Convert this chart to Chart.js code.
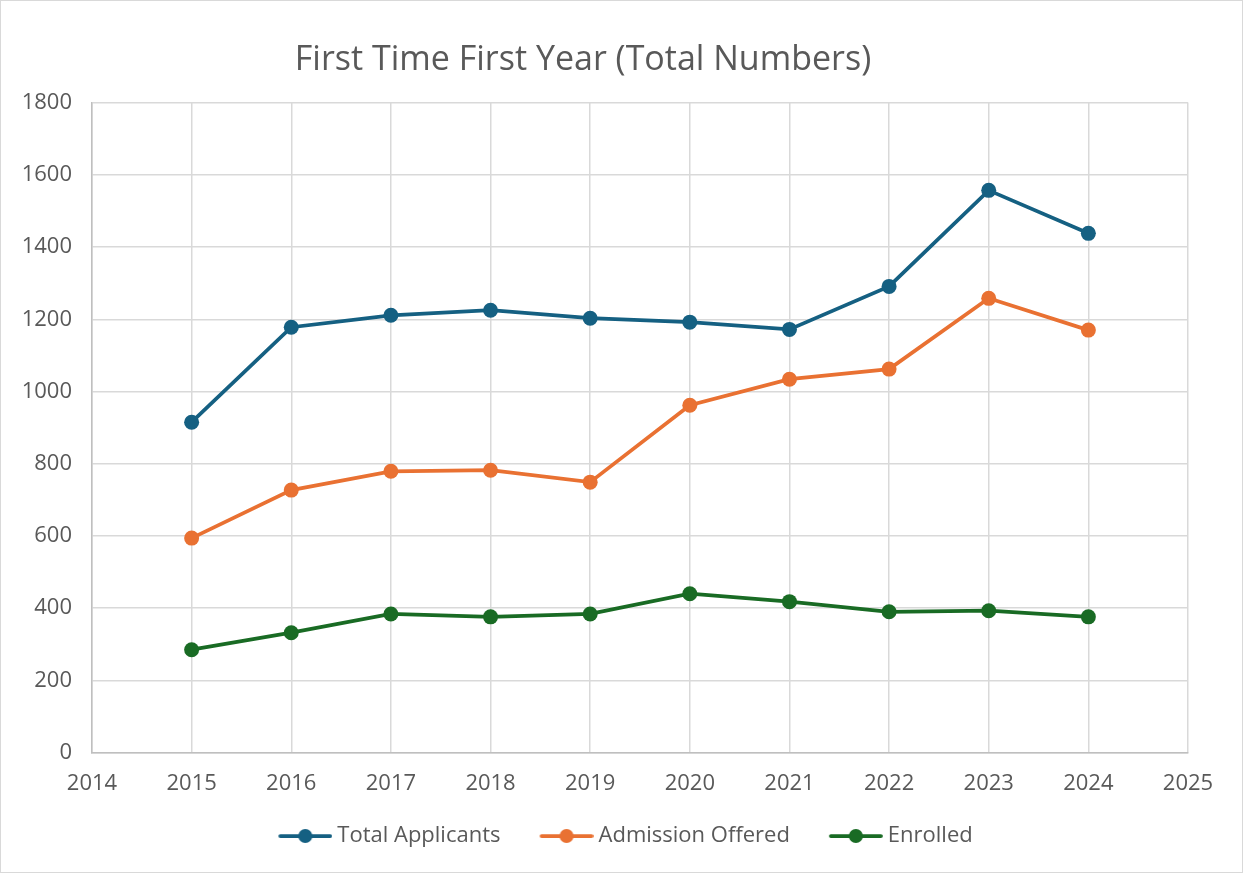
<!DOCTYPE html>
<html>
<head>
<meta charset="utf-8">
<script src="https://cdn.jsdelivr.net/npm/chart.js@4"></script>
<style>
  html, body { margin: 0; padding: 0; background: #fff; }
  #wrap { width: 1241px; height: 871px; border: 1px solid #d9d9d9; }
</style>
</head>
<body>
<div id="wrap"><canvas id="chart" width="1241" height="871"></canvas></div>
<script>
// data
const YEARS = [2015, 2016, 2017, 2018, 2019, 2020, 2021, 2022, 2023, 2024];
const TOTAL_APPLICANTS = [915, 1178, 1211, 1225, 1203, 1192, 1172, 1291, 1557, 1438];
const ADMISSION_OFFERED = [594, 727, 779, 782, 749, 962, 1034, 1062, 1258, 1170];
const ENROLLED = [285, 332, 384, 376, 384, 440, 418, 390, 393, 376];

const SERIES_NAMES = ['Total Applicants', 'Admission Offered', 'Enrolled'];
const COLORS = ['#156082', '#E97132', '#196B24'];

// legend marker sizes
const ICON_W = 54;
const ICON_BLANK = 35;           // blank space in front of each marker, acts as item spacing
const BOX_W = ICON_W + ICON_BLANK - 12;

function toPoints(vals) {
    return YEARS.map((y, i) => ({ x: y, y: vals[i] }));
}

// legend marker: short line with a dot
function legendIcon(color) {
    const g = ICON_BLANK;
    const c = document.createElement('canvas');
    c.width = g + ICON_W; c.height = 18;
    const ctx = c.getContext('2d');
    ctx.strokeStyle = color;
    ctx.lineWidth = 3.75;
    ctx.lineCap = 'round';
    ctx.beginPath();
    ctx.moveTo(g + 2, 9); ctx.lineTo(g + ICON_W - 2, 9);
    ctx.stroke();
    ctx.fillStyle = color;
    ctx.beginPath();
    ctx.arc(g + ICON_W / 2, 9, 7, 0, Math.PI * 2);
    ctx.fill();
    return c;
}

const allSeries = [TOTAL_APPLICANTS, ADMISSION_OFFERED, ENROLLED];
const datasets = allSeries.map((vals, i) => ({
    label: SERIES_NAMES[i],
    data: toPoints(vals),
    borderColor: COLORS[i],
    backgroundColor: COLORS[i],
    borderWidth: 3.75,
    pointRadius: 7.5,
    pointHoverRadius: 7.5,
    pointBorderWidth: 0,
    tension: 0
}));

const FONT = "'Open Sans', 'Liberation Sans', sans-serif";

// Excel puts the title a bit left of the centre, the legend a bit right
const nudgeBlocks = {
    id: 'nudgeBlocks',
    afterLayout(chart) {
        if (chart.titleBlock) {
            chart.titleBlock.left = 0;
            chart.titleBlock.right = 1164;
        }
        if (chart.legend) {
            chart.legend.left += 6;
            chart.legend.right += 6;
        }
    }
};

new Chart(document.getElementById('chart'), {
    type: 'line',
    data: { datasets: datasets },
    plugins: [nudgeBlocks],
    options: {
        responsive: false,
        animation: false,
        layout: { padding: { left: 21, right: 54, top: 0, bottom: 15 } },
        plugins: {
            title: {
                display: true,
                text: 'First Time First Year (Total Numbers)',
                color: '#595959',
                font: { family: FONT, size: 34, weight: 'normal' },
                padding: { top: 39, bottom: 21.8 }
            },
            legend: {
                position: 'bottom',
                labels: {
                    color: '#595959',
                    font: { family: FONT, size: 22 },
                    usePointStyle: true,
                    pointStyleWidth: BOX_W,
                    padding: 10,
                    generateLabels: (chart) => chart.data.datasets.map((ds, i) => ({
                        text: ds.label,
                        pointStyle: legendIcon(COLORS[i]),
                        fillStyle: COLORS[i],
                        strokeStyle: COLORS[i],
                        fontColor: '#595959',
                        datasetIndex: i
                    }))
                }
            },
            tooltip: { enabled: false }
        },
        scales: {
            x: {
                type: 'linear',
                min: 2014,
                max: 2025,
                ticks: {
                    stepSize: 1,
                    color: '#595959',
                    font: { family: FONT, size: 22 },
                    padding: 18,
                    callback: (v) => String(v)
                },
                grid: { color: '#d9d9d9', lineWidth: 1.5, drawTicks: false },
                border: { color: '#bfbfbf', width: 1.5 }
            },
            y: {
                min: 0,
                max: 1800,
                afterFit: (scale) => { scale.width = 70; },
                ticks: {
                    stepSize: 200,
                    color: '#595959',
                    font: { family: FONT, size: 22 },
                    padding: 20,
                    callback: (v) => String(v)
                },
                grid: { color: '#d9d9d9', lineWidth: 1.5, drawTicks: false },
                border: { color: '#bfbfbf', width: 1.5 }
            }
        }
    }
});
</script>
</body>
</html>
